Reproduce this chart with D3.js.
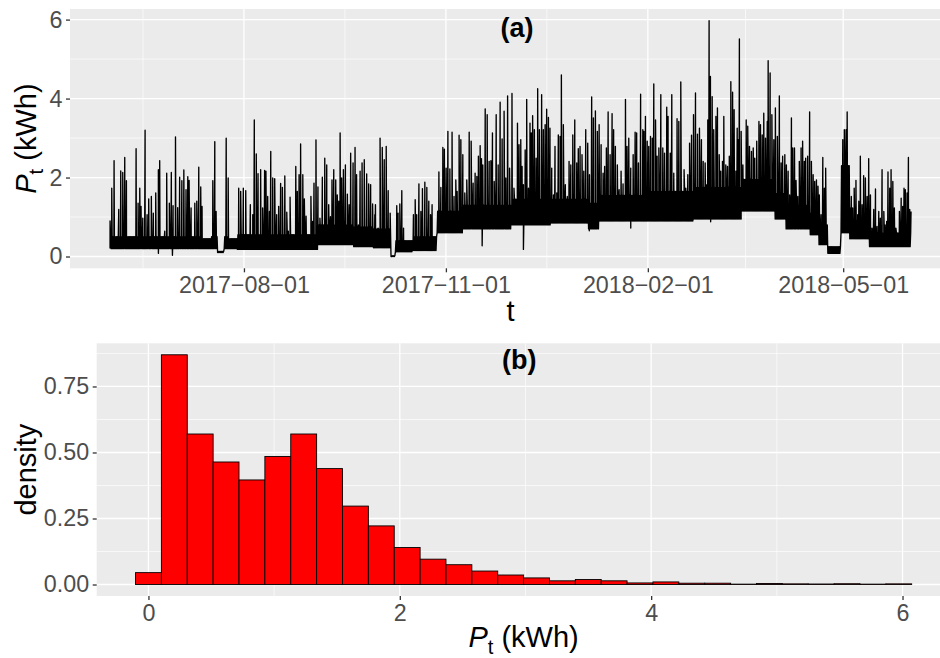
<!DOCTYPE html>
<html>
<head>
<meta charset="utf-8">
<script src="https://cdn.jsdelivr.net/npm/d3@7"></script>
<style>
body { margin: 0; background: #fff; }
svg { display: block; }
text { font-family: "Liberation Sans", Arial, Helvetica, sans-serif; }
</style>
</head>
<body>
<svg id="chart" width="940" height="658"></svg>
<script>
// ---- data ----
// hourly series from 2017-06-01; peaks as (days since start, kWh)
var seriesStart = Date.UTC(2017, 5, 1);
var seriesDays = 365;
var peakDay = [
  0.0, 0.76, 1.82, 3.95, 4.86, 5.77, 6.68, 7.44, 11.85, 12.76, 13.52, 14.1, 14.9, 15.95, 16.86, 17.6,
  18.8, 19.7, 20.8, 22.0, 22.6, 24.9, 25.8, 27.0, 27.9, 28.7, 29.8, 30.8, 31.7, 32.7, 33.6, 34.6,
  35.4, 36.0, 36.9, 38.6, 39.5, 40.4, 41.3, 41.9, 46.8, 47.7, 48.3, 52.9, 53.8, 58.6, 59.5,
  60.7, 61.8, 63.9, 65.0, 65.7, 66.6, 67.4, 68.6, 69.5, 70.4, 71.0, 71.8, 72.6, 73.2, 74.1, 75.0,
  75.9, 76.8, 77.7, 78.5, 79.6, 80.5, 81.2, 82.0, 84.6, 85.3, 86.1, 86.8, 87.8, 88.5, 89.3, 91.5,
  92.3, 92.9, 93.8, 94.7, 95.6, 96.7, 97.8, 98.7, 99.6, 100.4, 101.1, 101.9, 102.8, 103.5, 104.2, 104.8,
  105.5, 106.3, 107.2, 108.1, 108.9, 109.6, 110.7, 111.6, 112.3, 113.1, 113.9, 114.8, 115.8, 116.9, 117.8, 118.7,
  119.6, 120.6, 120.9, 122.1, 123.0, 124.0, 124.9, 125.8, 126.7, 127.6, 130.6, 131.2, 132.0, 132.9, 133.7, 138.2,
  139.0, 139.7, 140.7, 141.6, 142.3, 143.4, 144.3, 145.2, 146.0, 146.7, 149.8, 150.7, 151.6, 152.3, 153.1, 153.9,
  154.8, 155.8, 156.7, 157.5, 158.1, 159.0, 159.8, 160.7, 161.6, 162.5, 163.6, 164.5, 165.4, 166.3, 167.1, 167.8,
  168.6, 169.2, 169.8, 170.9, 171.8, 172.7, 173.5, 174.2, 175.0, 175.9, 176.8, 177.7, 178.6, 179.5, 180.3, 181.1,
  182.0, 183.1, 184.0, 184.8, 185.6, 186.3, 187.1, 187.7, 188.3, 189.1, 189.8, 190.6, 191.3, 191.9, 192.5, 193.3,
  194.1, 194.8, 195.6, 196.6, 197.4, 198.2, 198.9, 199.7, 200.4, 201.2, 202.0, 202.7, 203.5, 204.2, 205.0, 205.6,
  206.5, 207.4, 208.3, 209.1, 209.9, 210.8, 211.7, 212.6, 213.3, 214.1, 215.0, 215.8, 216.7, 217.6, 218.4, 219.4,
  220.2, 221.1, 222.0, 222.8, 223.7, 224.6, 225.3, 226.1, 226.9, 227.8, 228.7, 229.4, 230.2, 231.1, 231.9, 232.8,
  233.7, 234.8, 235.5, 236.3, 237.2, 238.3, 239.2, 239.9, 240.7, 241.7, 242.7, 243.2, 243.9, 244.7, 245.4, 246.2,
  247.0, 247.7, 248.5, 249.2, 250.0, 250.9, 251.8, 252.6, 253.6, 254.2, 255.2, 255.9, 256.8, 257.6, 258.3, 259.1,
  260.0, 260.8, 261.5, 262.3, 263.2, 264.0, 264.9, 265.8, 266.7, 267.6, 268.5, 269.4, 270.2, 271.1, 271.9, 272.3,
  272.9, 273.5, 274.3, 275.0, 276.0, 276.7, 277.5, 278.2, 279.0, 279.6, 280.5, 281.3, 282.1, 282.8, 283.6, 284.3,
  285.1, 285.7, 286.1, 286.7, 287.5, 288.3, 289.0, 289.8, 290.5, 291.3, 292.2, 293.0, 293.7, 294.6, 295.6, 296.3,
  297.1, 297.8, 298.6, 299.4, 299.8, 300.7, 301.5, 302.4, 303.1, 304.0, 304.9, 305.7, 306.4, 307.4, 308.1, 308.9,
  309.6, 310.4, 311.0, 311.8, 312.5, 313.3, 314.0, 314.8, 315.5, 316.3, 316.9, 317.8, 318.7, 319.5, 320.3, 321.0,
  321.8, 322.5, 323.1, 323.9, 324.7, 325.4, 326.0, 333.8, 334.5, 335.3, 335.8, 336.5, 337.1, 337.7, 338.3, 339.0,
  339.8, 340.6, 341.1, 341.8, 342.6, 343.3, 344.1, 344.9, 345.6, 346.4, 347.1, 347.9, 348.7, 349.4, 350.2, 350.9,
  351.7, 352.5, 353.1, 353.8, 354.4, 355.2, 355.8, 356.6, 357.3, 358.0, 359.6, 360.4, 361.1, 361.7, 362.3, 363.1,
  363.7, 364.3, 364.9
];
var peakValue = [
  0.9, 1.73, 2.43, 1.19, 2.17, 2.13, 2.51, 1.92, 2.73, 1.35, 1.73, 1.27, 0.97, 3.2, 1.06, 1.46,
  1.52, 1.1, 1.61, 2.2, 2.43, 0.64, 2.11, 1.35, 2.13, 1.29, 3.03, 1.24, 2.01, 1.92, 2.19, 1.69,
  2.02, 1.93, 1.23, 1.35, 1.4, 2.26, 1.76, 1.27, 1.92, 2.91, 1.14, 3.0, 1.99, 1.73, 1.65,
  1.73, 1.67, 1.31, 1.06, 3.46, 2.6, 2.1, 2.2, 1.23, 2.18, 2.16, 1.52, 1.14, 2.66, 1.99, 1.97,
  1.06, 1.27, 1.85, 1.75, 2.04, 1.12, 0.64, 1.5, 2.28, 1.65, 2.07, 2.85, 2.07, 1.46, 1.02, 1.52,
  0.89, 1.86, 2.95, 1.76, 0.97, 2.01, 2.49, 2.32, 1.31, 1.01, 1.94, 2.2, 1.94, 1.56, 1.4, 3.13,
  1.99, 2.2, 2.32, 1.58, 1.31, 2.62, 2.37, 2.76, 2.07, 0.8, 2.16, 2.37, 2.45, 2.09, 1.84, 1.82,
  1.33, 1.06, 1.31, 0.72, 3.0, 2.76, 2.45, 2.79, 1.67, 1.1, 1.29, 1.1, 1.33, 1.67, 0.72, 1.06,
  1.44, 1.06, 1.84, 1.14, 1.72, 1.88, 1.75, 1.4, 1.06, 1.31, 2.14, 1.75, 2.76, 2.72, 2.24, 3.17,
  2.22, 3.15, 1.52, 1.94, 1.65, 3.07, 2.96, 2.58, 1.61, 1.94, 3.15, 2.92, 1.86, 2.11, 2.03, 2.54,
  2.81, 2.48, 2.32, 3.74, 3.59, 2.41, 2.43, 3.13, 1.9, 3.59, 2.32, 3.91, 2.98, 3.68, 1.99, 4.07,
  2.24, 4.13, 1.73, 1.31, 3.38, 2.83, 2.96, 2.28, 1.82, 2.7, 3.98, 1.73, 3.38, 3.13, 3.57, 3.21,
  2.49, 4.25, 3.21, 4.1, 3.21, 3.34, 3.73, 3.52, 3.25, 2.24, 1.56, 2.79, 1.61, 3.08, 3.04, 4.6,
  3.34, 1.82, 1.52, 2.41, 2.32, 3.08, 3.46, 2.37, 2.73, 2.79, 2.58, 2.16, 3.21, 2.87, 2.07, 4.04,
  3.51, 3.69, 3.17, 3.34, 2.83, 2.11, 2.28, 2.75, 3.66, 2.58, 3.62, 3.21, 2.79, 2.32, 1.69, 2.16,
  1.84, 3.98, 2.79, 3.0, 2.24, 2.58, 3.15, 3.13, 2.37, 4.11, 3.21, 3.17, 3.55, 2.92, 2.79, 3.04,
  3.0, 4.37, 3.46, 2.54, 2.75, 4.1, 2.75, 2.62, 3.78, 3.55, 2.62, 4.1, 2.11, 1.56, 3.49, 3.42,
  4.42, 1.65, 2.2, 1.73, 2.07, 2.87, 3.07, 3.59, 4.14, 3.1, 3.25, 2.96, 2.41, 2.37, 1.82, 3.46,
  5.97, 4.56, 4.05, 3.21, 3.55, 3.76, 2.58, 2.16, 2.41, 3.55, 2.32, 2.28, 2.54, 4.43, 4.16, 3.72,
  2.16, 3.25, 2.96, 5.51, 3.17, 2.32, 1.73, 3.46, 3.3, 2.79, 2.66, 2.75, 2.49, 2.92, 3.42, 3.34,
  3.08, 3.63, 3.0, 3.42, 4.96, 4.65, 3.59, 2.96, 3.76, 3.04, 4.07, 2.37, 2.54, 2.58, 2.32, 2.16,
  1.56, 3.51, 2.75, 2.75, 1.93, 1.52, 2.41, 2.75, 2.92, 2.41, 2.49, 2.54, 3.66, 2.41, 2.07, 1.9,
  1.94, 1.78, 1.56, 1.06, 2.51, 1.73, 2.24, 2.96, 3.21, 3.21, 3.66, 1.99, 1.23, 1.52, 1.23, 1.73,
  1.93, 1.06, 1.4, 2.54, 1.31, 2.05, 1.99, 1.52, 2.48, 1.56, 0.72, 1.19, 1.71, 0.76, 1.14, 0.97,
  2.2, 1.14, 0.8, 0.89, 2.14, 1.73, 2.2, 1.9, 1.23, 0.72, 1.14, 1.48, 1.27, 1.73, 1.69, 1.61,
  2.51, 1.19, 1.14
];
// single hours that drop well below the band
var dipDay   = [22.0, 28.4, 169.5, 188.3, 218.3, 237.2, 273.6];
var dipValue = [0.08, 0.03, 0.27, 0.18, 0.65, 0.72, 0.88];
// the dense band under the peaks: from day bandStart[i] on, hours sit between bandLow and bandTop
var bandStart = [0, 42, 46, 49, 52, 54, 58, 95, 111, 120, 128, 130, 138, 149, 161, 183, 201, 218, 223, 243, 266, 288, 303, 308, 319, 323, 327, 333, 337, 346];
var bandLow   = [0.2, 0.2, 0.2, 0.1, 0.2, 0.2, 0.18, 0.3, 0.25, 0.22, 0.0, 0.12, 0.15, 0.6, 0.7, 0.8, 0.85, 0.7, 0.9, 0.9, 0.95, 1.15, 0.95, 0.7, 0.55, 0.3, 0.08, 0.6, 0.45, 0.25];
var bandTop   = [0.5, 0.45, 0.5, 0.13, 0.5, 0.45, 0.55, 0.8, 0.75, 0.7, 0.02, 0.4, 0.5, 1.15, 1.3, 1.45, 1.45, 1.35, 1.55, 1.65, 1.75, 1.95, 1.6, 1.3, 1.1, 0.8, 0.25, 2.3, 0.9, 0.6];
var dateTicks = ["2017-08-01", "2017-11-01", "2018-02-01", "2018-05-01"];
var powerTicks = [0, 2, 4, 6];

// histogram, 30 bins over the range of P_t
var pMin = 0, pMax = 5.97, nBins = 30;
var binDensity = [
  0.045, 0.870, 0.570, 0.464, 0.396, 0.485, 0.570, 0.439, 0.297, 0.222,
  0.140, 0.096, 0.075, 0.051, 0.036, 0.025, 0.014, 0.019, 0.014, 0.006,
  0.0098, 0.005, 0.005, 0.0015, 0.004, 0.0025, 0.002, 0.003, 0.0015, 0.0025
];
var densityTicks = [0, 0.25, 0.5, 0.75];
var histTicks = [0, 2, 4, 6];

// ---- drawing ----
var svg = d3.select("#chart");
var DAY = 864e5;
var TICK_FONT = 23.3, TITLE_FONT = 29;
var GRID_BG = "#EBEBEB";

function styleAxis(g) {
    g.select(".domain").remove();
    g.selectAll(".tick line").attr("stroke", "#333333").attr("stroke-width", 1.3);
    g.selectAll(".tick text").attr("fill", "#4D4D4D").attr("font-size", TICK_FONT)
        .style("font-family", '"Liberation Sans", Arial, Helvetica, sans-serif');
}

function ptLabel(sel) {
    sel.append("tspan").attr("font-style", "italic").text("P");
    sel.append("tspan").attr("font-size", TITLE_FONT * 0.7).attr("dy", 7).text("t");
    sel.append("tspan").attr("dy", -7).text(" (kWh)");
}

function hline(g, data, scale, x1, x2, w) {
    g.selectAll(null).data(data).enter().append("line")
        .attr("x1", x1).attr("x2", x2)
        .attr("y1", function(d) { return scale(d); }).attr("y2", function(d) { return scale(d); })
        .attr("stroke", "#fff").attr("stroke-width", w);
}
function vline(g, data, scale, y1, y2, w) {
    g.selectAll(null).data(data).enter().append("line")
        .attr("y1", y1).attr("y2", y2)
        .attr("x1", function(d) { return scale(d); }).attr("x2", function(d) { return scale(d); })
        .attr("stroke", "#fff").attr("stroke-width", w);
}

// panel (a)
var pa = {left: 70, top: 9, bottom: 268.3, right: 951.3};

// band points four times a day, peaks and dips slotted in at their own times
var pts = [];
d3.range(seriesDays).forEach(function(d) {
    var i = d3.bisectRight(bandStart, d) - 1;
    pts.push({day: d, v: bandLow[i]});
    pts.push({day: d + 0.25, v: bandTop[i]});
    pts.push({day: d + 0.5, v: bandLow[i]});
    pts.push({day: d + 0.75, v: bandTop[i]});
});
peakDay.forEach(function(d, k) { pts.push({day: d + 0.01, v: peakValue[k]}); });
dipDay.forEach(function(d, k) { pts.push({day: d + 0.02, v: dipValue[k]}); });
pts.sort(function(a, b) { return a.day - b.day; });
pts.forEach(function(p) { p.t = new Date(seriesStart + p.day * DAY); });

var t0 = new Date(seriesStart), t1 = new Date(seriesStart + seriesDays * DAY);
var tpad = (t1 - t0) * 0.05;
var xa = d3.scaleUtc()
    .domain([new Date(+t0 - tpad), new Date(+t1 + tpad)])
    .range([pa.left, pa.right]);
var ext = d3.extent(pts, function(p) { return p.v; });
var vpad = (ext[1] - ext[0]) * 0.05;
var ya = d3.scaleLinear().domain([ext[0] - vpad, ext[1] + vpad]).range([pa.bottom, pa.top]);

var majors = dateTicks.map(function(s) { return d3.utcParse("%Y-%m-%d")(s); });
var outer = [d3.utcMonth.offset(majors[0], -3)].concat(majors, [d3.utcMonth.offset(majors[majors.length - 1], 3)]);
var minors = d3.pairs(outer).map(function(p) { return new Date((+p[0] + +p[1]) / 2); });

var ga = svg.append("g");
ga.append("rect").attr("x", pa.left).attr("y", pa.top)
    .attr("width", pa.right - pa.left).attr("height", pa.bottom - pa.top).attr("fill", GRID_BG);
hline(ga, [1, 3, 5], ya, pa.left, pa.right, 0.65);
vline(ga, minors, xa, pa.top, pa.bottom, 0.65);
hline(ga, powerTicks, ya, pa.left, pa.right, 1.3);
vline(ga, majors, xa, pa.top, pa.bottom, 1.3);

var line = d3.line().x(function(p) { return xa(p.t); }).y(function(p) { return ya(p.v); });
ga.append("path").datum(pts).attr("d", line)
    .attr("fill", "none").attr("stroke", "#000").attr("stroke-width", 1.35)
    .attr("stroke-linejoin", "round");

ga.append("g").attr("transform", "translate(0," + pa.bottom + ")")
    .call(d3.axisBottom(xa).tickValues(majors).tickSize(4).tickPadding(4.5)
        .tickFormat(d3.utcFormat("%Y\u2212%m\u2212%d")))
    .call(styleAxis);
ga.append("g").attr("transform", "translate(" + pa.left + ",0)")
    .call(d3.axisLeft(ya).tickValues(powerTicks).tickSize(4).tickPadding(3.5).tickFormat(d3.format("d")))
    .call(styleAxis);

ga.append("text").attr("x", (pa.left + pa.right) / 2).attr("y", 321)
    .attr("text-anchor", "middle").attr("font-size", TITLE_FONT).text("t");
ga.append("text").attr("transform", "translate(35.5," + (pa.top + pa.bottom) / 2 + ") rotate(-90)")
    .attr("text-anchor", "middle").attr("font-size", TITLE_FONT).call(ptLabel);
ga.append("text").attr("x", xa(new Date(seriesStart + 185.4 * DAY))).attr("y", 37)
    .attr("text-anchor", "middle").attr("font-size", 27).attr("font-weight", "bold").text("(a)");

// panel (b)
var pb = {left: 96.7, top: 343.3, bottom: 596, right: 950.5};
var bw = (pMax - pMin) / (nBins - 1);
var bins = binDensity.map(function(v, k) {
    return {x0: pMin + (k - 0.5) * bw, x1: pMin + (k + 0.5) * bw, v: v};
});
var bx0 = bins[0].x0, bx1 = bins[bins.length - 1].x1;
var hpad = (bx1 - bx0) * 0.05;
var xb = d3.scaleLinear().domain([bx0 - hpad, bx1 + hpad]).range([pb.left, pb.right]);
var dmax = d3.max(binDensity);
var yb = d3.scaleLinear().domain([-dmax * 0.05, dmax * 1.05]).range([pb.bottom, pb.top]);

var gb = svg.append("g");
gb.append("rect").attr("x", pb.left).attr("y", pb.top)
    .attr("width", pb.right - pb.left).attr("height", pb.bottom - pb.top).attr("fill", GRID_BG);
hline(gb, [0.125, 0.375, 0.625, 0.875], yb, pb.left, pb.right, 0.65);
vline(gb, [1, 3, 5], xb, pb.top, pb.bottom, 0.65);
hline(gb, densityTicks, yb, pb.left, pb.right, 1.3);
vline(gb, histTicks, xb, pb.top, pb.bottom, 1.3);

gb.selectAll(".bar").data(bins).enter().append("rect")
    .attr("x", function(d) { return xb(d.x0); })
    .attr("width", function(d) { return xb(d.x1) - xb(d.x0); })
    .attr("y", function(d) { return yb(d.v); })
    .attr("height", function(d) { return yb(0) - yb(d.v); })
    .attr("fill", "#FF0000").attr("stroke", "#000").attr("stroke-width", 0.9);

gb.append("g").attr("transform", "translate(0," + pb.bottom + ")")
    .call(d3.axisBottom(xb).tickValues(histTicks).tickSize(4).tickPadding(4.5).tickFormat(d3.format("d")))
    .call(styleAxis);
gb.append("g").attr("transform", "translate(" + pb.left + ",0)")
    .call(d3.axisLeft(yb).tickValues(densityTicks).tickSize(4).tickPadding(3.5).tickFormat(d3.format(".2f")))
    .call(styleAxis);

gb.append("text").attr("x", (pb.left + pb.right) / 2).attr("y", 647)
    .attr("text-anchor", "middle").attr("font-size", TITLE_FONT).call(ptLabel);
gb.append("text").attr("transform", "translate(35.5," + (pb.top + pb.bottom) / 2 + ") rotate(-90)")
    .attr("text-anchor", "middle").attr("font-size", TITLE_FONT).text("density");
gb.append("text").attr("x", xb(2.95)).attr("y", 369)
    .attr("text-anchor", "middle").attr("font-size", 27).attr("font-weight", "bold").text("(b)");
</script>
</body>
</html>
